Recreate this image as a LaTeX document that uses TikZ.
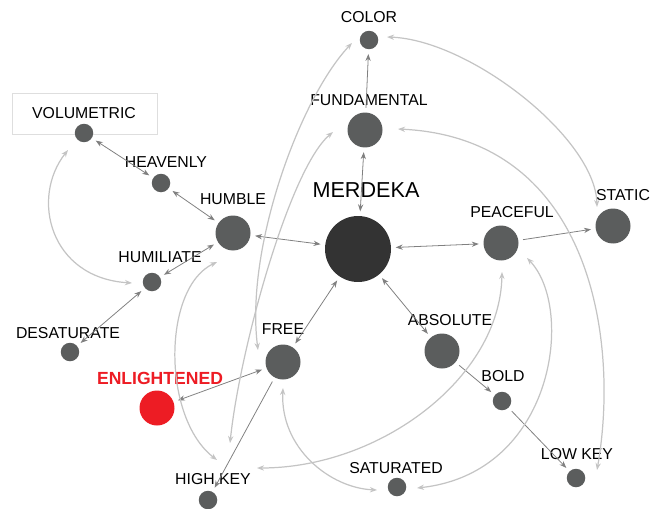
\documentclass[tikz,border=0pt]{standalone}
\usepackage{fontspec}
\setmainfont{Liberation Sans}
\usetikzlibrary{arrows.meta,calc}
\definecolor{nodegray}{RGB}{91,93,93}
\definecolor{hubgray}{RGB}{51,51,51}
\definecolor{linkgray}{RGB}{128,128,128}
\definecolor{bendgray}{RGB}{196,196,196}
\definecolor{boxgray}{RGB}{222,222,222}
\definecolor{hotred}{RGB}{237,28,36}
\begin{document}
\begin{tikzpicture}[
    x=0.02cm, y=0.02cm,
    >={Stealth[length=4pt,width=3pt]},
    bignode/.style={circle, fill=nodegray, minimum size=0.7cm, inner sep=0},
    smallnode/.style={circle, fill=nodegray, minimum size=0.37cm, inner sep=0},
    lbl/.style={inner sep=0, font=\fontsize{9}{10}\selectfont},
    link/.style={draw=linkgray, line width=0.45pt, shorten <=2.5pt, shorten >=2.5pt},
    bendlink/.style={draw=bendgray, line width=0.7pt, <->}
]
    \useasboundingbox (0,0) rectangle (651,508);

    \node[draw=boxgray, line width=0.5pt, minimum width=2.9cm, minimum height=0.82cm, inner sep=0] (volbox) at (84.5,394.5) {};

    \node[smallnode] (color) at (369,468) {};
    \node[bignode] (fundamental) at (365,378) {};
    \node[bignode, fill=hubgray, minimum size=1.32cm] (merdeka) at (358,259) {};
    \node[bignode] (peaceful) at (501,265) {};
    \node[bignode] (static) at (613,282) {};
    \node[bignode] (humble) at (233,275) {};
    \node[smallnode] (heavenly) at (161,325) {};
    \node[smallnode] (volumetric) at (84,375) {};
    \node[smallnode] (humiliate) at (152,226) {};
    \node[smallnode] (desaturate) at (70,156) {};
    \node[bignode, fill=hotred] (enlightened) at (157,100) {};
    \node[bignode] (free) at (283,146) {};
    \node[bignode] (absolute) at (442,157) {};
    \node[smallnode] (bold) at (502,107) {};
    \node[smallnode] (lowkey) at (576,30) {};
    \node[smallnode] (saturated) at (397,21) {};
    \node[smallnode] (highkey) at (208,8) {};

    \node[lbl] (color-t) at (369,491) {COLOR};
    \node[lbl] (fundamental-t) at (369,408) {FUNDAMENTAL};
    \node[lbl, font=\fontsize{12.3}{14}\selectfont] (merdeka-t) at (366,318) {MERDEKA};
    \node[lbl] (peaceful-t) at (512,296) {PEACEFUL};
    \node[lbl] (static-t) at (623,313) {STATIC};
    \node[lbl] (humble-t) at (233,309) {HUMBLE};
    \node[lbl] (heavenly-t) at (166,346) {HEAVENLY};
    \node[lbl] (volumetric-t) at (84,395) {VOLUMETRIC};
    \node[lbl] (humiliate-t) at (160,251) {HUMILIATE};
    \node[lbl] (desaturate-t) at (68,175) {DESATURATE};
    \node[lbl, font=\fontsize{10}{12}\selectfont\bfseries, text=hotred] (enlightened-t) at (160,130) {ENLIGHTENED};
    \node[lbl] (free-t) at (283,179) {FREE};
    \node[lbl] (absolute-t) at (450,188) {ABSOLUTE};
    \node[lbl] (bold-t) at (503,132) {BOLD};
    \node[lbl] (lowkey-t) at (577,54) {LOW KEY};
    \node[lbl] (saturated-t) at (396,40) {SATURATED};
    \node[lbl] (highkey-t) at (213,29) {HIGH KEY};

    % straight links
    \draw[link, ->] (fundamental) -- (color);
    \draw[link, <->] (merdeka) -- (fundamental);
    \draw[link, <->] (merdeka) -- (humble);
    \draw[link, <->] (merdeka) -- (peaceful);
    \draw[link, ->] (peaceful) -- (static);
    \draw[link, <->] (merdeka) -- (free);
    \draw[link, <->] (merdeka) -- (absolute);
    \draw[link, ->] (absolute) -- (bold);
    \draw[link, ->] (bold) -- (lowkey);
    \draw[link, <->] (humble) -- (heavenly);
    \draw[link, <->] (heavenly) -- (volumetric);
    \draw[link, <->] (humble) -- (humiliate);
    \draw[link, <->] (humiliate) -- (desaturate);
    \draw[link, <->] (free) -- (enlightened);
    \draw[link, ->] (free) -- (highkey);

    % curved links
    \draw[bendlink] ($(color)+(18,3)$) .. controls (470,468) and (595,370) .. ($(static)+(-16,19)$);
    \draw[bendlink] ($(fundamental)+(33,1)$) .. controls (590,370) and (620,170) .. ($(lowkey)+(21,8)$);
    \draw[bendlink] ($(color)+(-17,-3)$) .. controls (300,410) and (245,260) .. ($(free)+(-25,12)$);
    \draw[bendlink] ($(fundamental)+(-32,-2)$) .. controls (290,340) and (240,160) .. ($(highkey)+(22,57)$);
    \draw[bendlink] ($(humble)+(-16,-29)$) .. controls (162,220) and (162,90) .. ($(highkey)+(9,40)$);
    \draw[bendlink] ($(volumetric)+(-16,-17)$) .. controls (30,310) and (50,230) .. ($(humiliate)+(-20,-1)$);
    \draw[bendlink] ($(peaceful)+(1,-29)$) .. controls (500,130) and (380,40) .. ($(highkey)+(49,32)$);
    \draw[bendlink] ($(peaceful)+(26,-15)$) .. controls (575,200) and (555,35) .. ($(saturated)+(20,-1)$);
    \draw[bendlink] ($(free)+(0,-26)$) .. controls (280,60) and (330,20) .. ($(saturated)+(-20,-3)$);
\end{tikzpicture}
\end{document}
